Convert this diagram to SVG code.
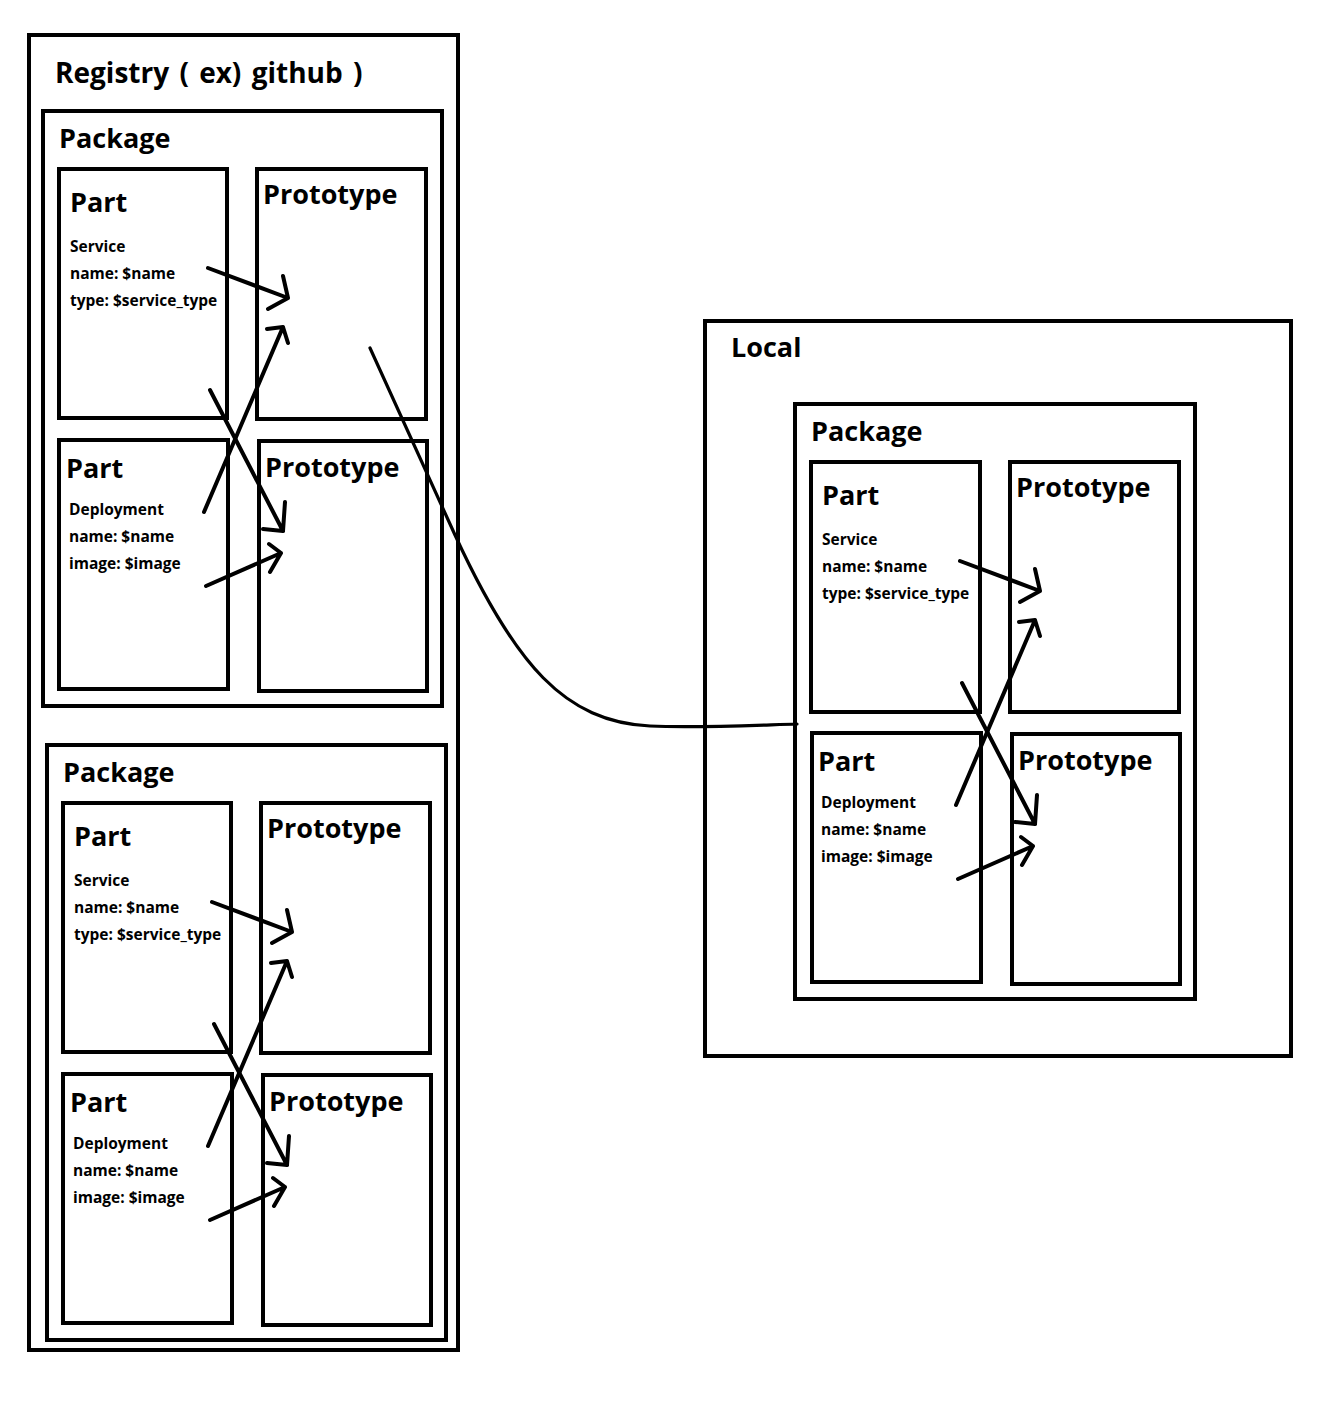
<svg xmlns="http://www.w3.org/2000/svg" width="1319" height="1407" viewBox="0 0 1319 1407">
<style>
.box{fill:none;stroke:#000;stroke-width:4}
.t{font-family:"Open Sans","Noto Sans",sans-serif;font-weight:bold;fill:#000}
.big{font-size:27px}
.title{font-size:28px;word-spacing:3px}
.sm{font-size:15.5px}
.ar{fill:none;stroke:#000;stroke-width:4;stroke-linecap:round;stroke-linejoin:round}
.cv{fill:none;stroke:#000;stroke-width:3.2;stroke-linecap:round}
</style>
<rect width="1319" height="1407" fill="#fff"/>
<g id="registry">
<rect class="box" x="29" y="35" width="429" height="1315"/>
<text class="t title" x="55" y="83">Registry ( ex) github )</text>
</g>
<g id="package1">
<rect class="box" x="43" y="111" width="399" height="595"/>
<text class="t big" x="59" y="148">Package</text>
</g>
<g id="part1">
<rect class="box" x="59" y="169" width="168" height="249"/>
<text class="t big" x="70" y="212">Part</text>
<text class="t sm" x="70" y="252">Service</text>
<text class="t sm" x="70" y="279">name: $name</text>
<text class="t sm" x="70" y="306">type: $service_type</text>
</g>
<g id="proto1">
<rect class="box" x="257" y="169" width="169" height="250"/>
<text class="t big" x="263" y="204">Prototype</text>
</g>
<g id="part2">
<rect class="box" x="59" y="440" width="169" height="249"/>
<text class="t big" x="66" y="478">Part</text>
<text class="t sm" x="69" y="515">Deployment</text>
<text class="t sm" x="69" y="542">name: $name</text>
<text class="t sm" x="69" y="569">image: $image</text>
</g>
<g id="proto2">
<rect class="box" x="259" y="441" width="168" height="250"/>
<text class="t big" x="265" y="477">Prototype</text>
</g>
<g id="package2">
<rect class="box" x="47" y="745" width="399" height="595"/>
<text class="t big" x="63" y="782">Package</text>
</g>
<g id="part3">
<rect class="box" x="63" y="803" width="168" height="249"/>
<text class="t big" x="74" y="846">Part</text>
<text class="t sm" x="74" y="886">Service</text>
<text class="t sm" x="74" y="913">name: $name</text>
<text class="t sm" x="74" y="940">type: $service_type</text>
</g>
<g id="proto3">
<rect class="box" x="261" y="803" width="169" height="250"/>
<text class="t big" x="267" y="838">Prototype</text>
</g>
<g id="part4">
<rect class="box" x="63" y="1074" width="169" height="249"/>
<text class="t big" x="70" y="1112">Part</text>
<text class="t sm" x="73" y="1149">Deployment</text>
<text class="t sm" x="73" y="1176">name: $name</text>
<text class="t sm" x="73" y="1203">image: $image</text>
</g>
<g id="proto4">
<rect class="box" x="263" y="1075" width="168" height="250"/>
<text class="t big" x="269" y="1111">Prototype</text>
</g>
<g id="local">
<rect class="box" x="705" y="321" width="586" height="735"/>
<text class="t big" x="731" y="357">Local</text>
</g>
<g id="package3">
<rect class="box" x="795" y="404" width="400" height="595"/>
<text class="t big" x="811" y="441">Package</text>
</g>
<g id="part5">
<rect class="box" x="811" y="462" width="169" height="250"/>
<text class="t big" x="822" y="505">Part</text>
<text class="t sm" x="822" y="545">Service</text>
<text class="t sm" x="822" y="572">name: $name</text>
<text class="t sm" x="822" y="599">type: $service_type</text>
</g>
<g id="proto5">
<rect class="box" x="1010" y="462" width="169" height="250"/>
<text class="t big" x="1016" y="497">Prototype</text>
</g>
<g id="part6">
<rect class="box" x="812" y="733" width="169" height="249"/>
<text class="t big" x="818" y="771">Part</text>
<text class="t sm" x="821" y="808">Deployment</text>
<text class="t sm" x="821" y="835">name: $name</text>
<text class="t sm" x="821" y="862">image: $image</text>
</g>
<g id="proto6">
<rect class="box" x="1012" y="734" width="168" height="250"/>
<text class="t big" x="1018" y="770">Prototype</text>
</g>
<g id="connectors">
<path class="ar" d="M208,268 L288,298 M283,276 L288,298 L268,309"/>
<path class="ar" d="M204,512 L283,327 M267,329 L283,327 L288,343"/>
<path class="ar" d="M210,390 L283,531 M285,502 L283,531 L263,529"/>
<path class="ar" d="M206,586 L281,553 M269,544 L281,553 L270,572"/>
<path class="ar" d="M212,902 L292,932 M287,910 L292,932 L272,943"/>
<path class="ar" d="M208,1146 L287,961 M271,963 L287,961 L292,977"/>
<path class="ar" d="M214,1024 L287,1165 M289,1136 L287,1165 L267,1163"/>
<path class="ar" d="M210,1220 L285,1187 M273,1178 L285,1187 L274,1206"/>
<path class="ar" d="M960,561 L1040,591 M1035,569 L1040,591 L1020,602"/>
<path class="ar" d="M956,805 L1035,620 M1019,622 L1035,620 L1040,636"/>
<path class="ar" d="M962,683 L1035,824 M1037,795 L1035,824 L1015,822"/>
<path class="ar" d="M958,879 L1033,846 M1021,837 L1033,846 L1022,865"/>
<path class="cv" d="M370,348 L455,535 C515,665 565,722 650,726 C700,728 760,725 797,724"/>
</g>
</svg>
